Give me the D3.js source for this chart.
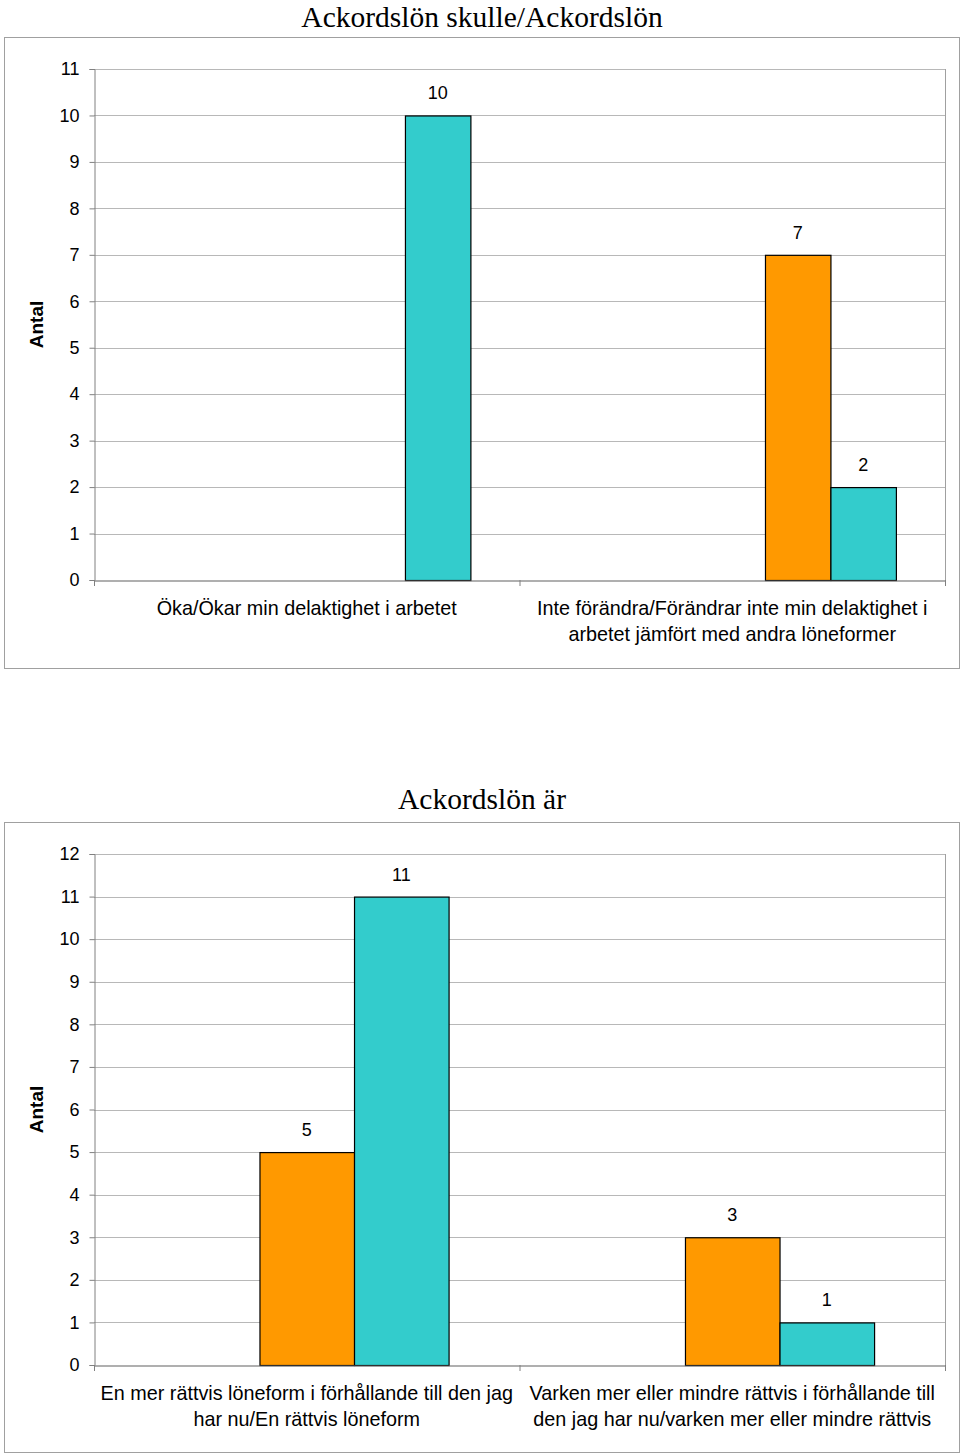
<!DOCTYPE html>
<html><head><meta charset="utf-8">
<script src="https://cdn.jsdelivr.net/npm/d3@7"></script>
<style>body{margin:0;background:#fff}svg{display:block}</style>
</head><body>
<script>
// ---- Chart 1 data ----
const title1 = "Ackordslön skulle/Ackordslön";
const cats1 = [["Öka/Ökar min delaktighet i arbetet"],
               ["Inte förändra/Förändrar inte min delaktighet i", "arbetet jämfört med andra löneformer"]];
const c1s1 = [null, 0];
const c1s2 = [null, 0];
const c1s3 = [0, 0];
const c1orange = [0, 7];
const c1teal = [10, 2];
const ticks1 = [0,1,2,3,4,5,6,7,8,9,10,11];

// ---- Chart 2 data ----
const title2 = "Ackordslön är";
const cats2 = [["En mer rättvis löneform i förhållande till den jag", "har nu/En rättvis löneform"],
               ["Varken mer eller mindre rättvis i förhållande till", "den jag har nu/varken mer eller mindre rättvis"]];
const c2s1 = [null, null];
const c2orange = [5, 3];
const c2teal = [11, 1];
const ticks2 = [0,1,2,3,4,5,6,7,8,9,10,11,12];

const yLabel = "Antal";
const colors = ["#9999FF", "#993366", "#FFFFCC", "#FF9900", "#33CCCC"];
const colors2 = ["#9999FF", "#FF9900", "#33CCCC"];

const svg = d3.select("body").append("svg").attr("width", 960).attr("height", 1454);

function drawChart(o) {
  const g = svg.append("g");
  g.append("rect").attr("x", o.box[0]+0.5).attr("y", o.box[1]+0.5)
    .attr("width", o.box[2]).attr("height", o.box[3])
    .attr("fill", "#fff").attr("stroke", "#a0a0a0").attr("stroke-width", 1);
  g.append("text").attr("x", 482).attr("y", o.titleY).attr("text-anchor", "middle")
    .attr("font-family", "Liberation Serif, Times New Roman, serif").attr("font-size", 29.5)
    .attr("fill", "#000").text(o.title);

  const L = 94, R = 945, T = o.top, B = o.bottom;
  const y = d3.scaleLinear().domain([0, d3.max(o.ticks)]).range([B, T]);
  const x0 = d3.scaleBand().domain(d3.range(o.cats.length)).range([L, R]).paddingInner(0).paddingOuter(0);
  const n = o.series.length;
  const bw = x0.bandwidth() / (n + 1.5);
  const x1 = d3.scaleBand().domain(d3.range(n)).range([0, bw * n]);

  g.selectAll("line.grid").data(o.ticks.filter(t => t > 0)).join("line")
    .attr("x1", L).attr("x2", R).attr("y1", d => Math.round(y(d)) + 0.5).attr("y2", d => Math.round(y(d)) + 0.5)
    .attr("stroke", "#b8b8b8").attr("stroke-width", 1);
  g.append("line").attr("x1", R + 0.5).attr("x2", R + 0.5).attr("y1", T).attr("y2", B)
    .attr("stroke", "#a0a0a0");

  const ya = d3.axisLeft(y).tickValues(o.ticks).tickSize(5).tickPadding(10).tickFormat(d3.format("d"));
  const yg = g.append("g").attr("transform", `translate(${L + 0.5},0)`).call(ya);
  yg.select(".domain").attr("stroke", "#808080");
  yg.selectAll(".tick line").attr("stroke", "#808080");
  yg.selectAll(".tick text").attr("font-family", "Liberation Sans, Arial, sans-serif")
    .attr("font-size", 18).attr("fill", "#000");

  o.series.forEach((vals, si) => {
    vals.forEach((v, ci) => {
      if (v === null) return;
      const bx = x0(ci) + (x0.bandwidth() - bw * n) / 2 + x1(si);
      g.append("rect").attr("x", bx + 0.5).attr("y", y(v) + 0.5)
        .attr("width", bw).attr("height", B - y(v))
        .attr("fill", o.colors[si]).attr("stroke", "#000").attr("stroke-width", 1.2);
      if (v > 0) {
        g.append("text").attr("x", bx + bw / 2).attr("y", y(v) - 16)
          .attr("text-anchor", "middle").attr("font-family", "Liberation Sans, Arial, sans-serif")
          .attr("font-size", 18).attr("fill", "#000").text(v);
      }
    });
  });

  const xa = d3.axisBottom(x0).tickSize(0).tickFormat("");
  const xg = g.append("g").attr("transform", `translate(0,${B + 0.5})`).call(xa);
  xg.select(".domain").attr("stroke", "#606060").attr("stroke-width", 1.2);
  g.selectAll("line.sep").data(d3.range(o.cats.length + 1)).join("line")
    .attr("x1", d => (d < o.cats.length ? x0(d) : R) + 0.5)
    .attr("x2", d => (d < o.cats.length ? x0(d) : R) + 0.5)
    .attr("y1", B).attr("y2", B + 6).attr("stroke", "#808080");

  o.cats.forEach((lines, ci) => {
    const t = g.append("text").attr("text-anchor", "middle")
      .attr("font-family", "Liberation Sans, Arial, sans-serif").attr("font-size", 19.8).attr("fill", "#000");
    lines.forEach((ln, li) => {
      t.append("tspan").attr("x", x0(ci) + x0.bandwidth() / 2).attr("y", B + 35 + li * 26).text(ln);
    });
  });

  g.append("text").attr("transform", `translate(43,${(T + B) / 2}) rotate(-90)`)
    .attr("text-anchor", "middle").attr("font-family", "Liberation Sans, Arial, sans-serif")
    .attr("font-size", 19).attr("font-weight", "bold").attr("fill", "#000").text(yLabel);
}

drawChart({box: [4, 37, 955, 631], title: title1, titleY: 27, top: 69, bottom: 580,
  ticks: ticks1, cats: cats1, series: [c1s1, c1s2, c1s3, c1orange, c1teal], colors: colors});
drawChart({box: [4, 822, 955, 630], title: title2, titleY: 809, top: 854, bottom: 1365,
  ticks: ticks2, cats: cats2, series: [c2s1, c2orange, c2teal], colors: colors2});
</script>
</body></html>
